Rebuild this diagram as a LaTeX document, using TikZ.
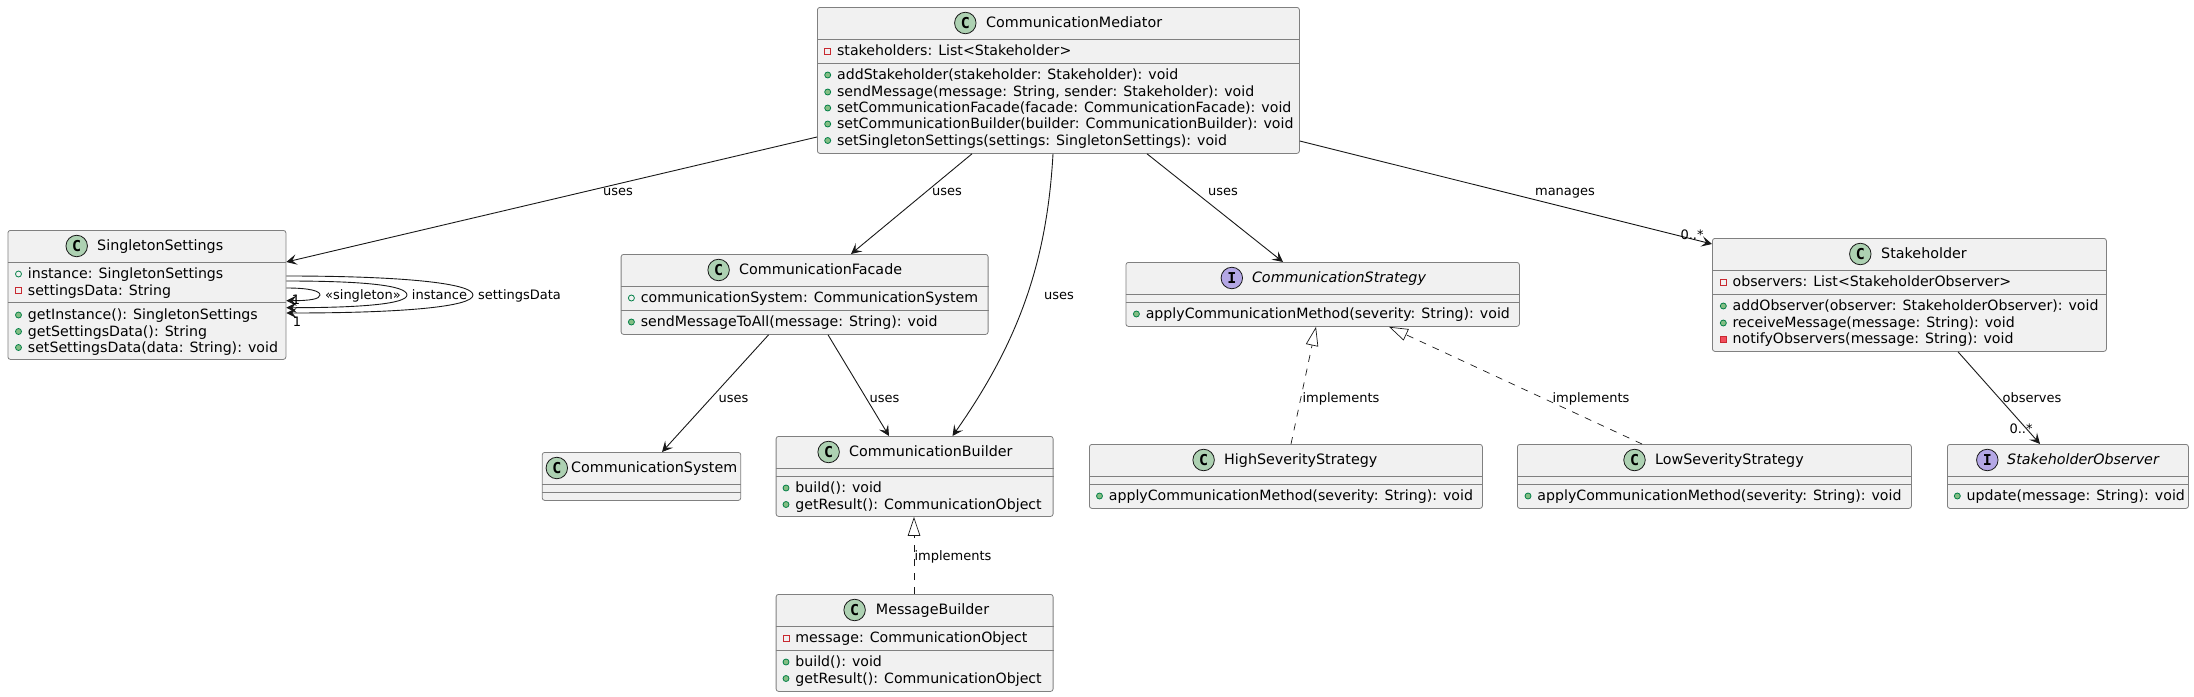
\documentclass[tikz,border=0pt]{standalone}
\usepackage{fontspec}
\setmainfont{DejaVu Sans}
\newfontfamily\badgefont{DejaVu Sans Mono}
\usetikzlibrary{arrows.meta,calc}
\definecolor{umlline}{HTML}{181818}
\definecolor{umlborder}{HTML}{808080}
\definecolor{umlfill}{HTML}{F1F1F1}
\definecolor{badgegreen}{HTML}{ADD1B2}
\definecolor{badgeviolet}{HTML}{B4A7E5}
\definecolor{pubgreen}{HTML}{84BE84}
\definecolor{pubedge}{HTML}{038048}
\definecolor{privred}{HTML}{F24D5C}
\definecolor{privedge}{HTML}{C82930}

\begin{document}
\begin{tikzpicture}[
      x=1pt,
      y=-1pt,
      umlbox/.style={
        draw=umlborder,
        fill=umlfill,
        line width=.8pt,
        rounded corners=2.5pt,
        inner sep=0pt,
        anchor=north west
      },
      sepline/.style={
        draw=umlborder,
        line width=.8pt
      },
      badgeC/.style={
        draw=umlline,
        fill=badgegreen,
        circle,
        line width=.8pt,
        inner sep=0pt,
        minimum size=21.5pt,
        font=\badgefont\bfseries\fontsize{15}{15}\selectfont
      },
      badgeI/.style={
        badgeC,
        fill=badgeviolet
      },
      titleC/.style={
        anchor=west,
        inner sep=0pt,
        text height=11.5pt,
        text depth=2.5pt,
        font=\fontsize{14.3}{16}\selectfont
      },
      titleI/.style={
        titleC,
        font=\fontsize{14.3}{16}\selectfont\itshape
      },
      memb/.style={
        anchor=west,
        inner sep=0pt,
        text height=11.5pt,
        text depth=2.5pt,
        font=\fontsize{14.15}{16}\selectfont
      },
      pubf/.style={
        draw=pubedge,
        circle,
        line width=.8pt,
        inner sep=0pt,
        minimum size=6pt
      },
      pubm/.style={
        pubf,
        fill=pubgreen
      },
      privf/.style={
        draw=privedge,
        rectangle,
        line width=.8pt,
        inner sep=0pt,
        minimum size=6pt
      },
      privm/.style={
        privf,
        fill=privred
      },
      lbl/.style={
        inner sep=0pt,
        text height=11pt,
        text depth=2pt,
        font=\fontsize{13}{15}\selectfont
      },
      arr/.style={
        draw=umlline,
        line width=.9pt,
        -{Stealth[length=10.5pt,width=10.5pt,inset=4.5pt]}
      },
      impl/.style={
        draw=umlline,
        line width=.7pt,
        dash pattern=on 7pt off 7pt,
        -{Triangle[open,length=19pt,width=12.5pt,line width=.7pt]}
      }
    ]
    \useasboundingbox (0,0) rectangle (2194,696);

    \foreach \nm/\bx/\by/\bw/\bh/\bs/\cx/\tx/\kd/\ttl in {
        med/817/7/482/146/24/965.3/986/C/CommunicationMediator,
        sing/7.5/230/278/129/40/76.7/97/C/SingletonSettings,
        fac/620.7/254/367/80/24/718.6/739/C/CommunicationFacade,
        sys/541.8/452/198.6/48/8/556.8/571/C/CommunicationSystem,
        bld/775.7/436/277/80/8/828.6/849/C/CommunicationBuilder,
        msg/775.7/594/277/97/24/854.6/875.7/C/MessageBuilder,
        strat/1125.5/262/393.5/64/8/1231.8/1251.8/I/CommunicationStrategy,
        high/1089/444/393/64/8/1203.6/1224/C/HighSeverityStrategy,
        low/1517/444/394/64/8/1634.5/1655/C/LowSeverityStrategy,
        stake/1712/238/394/113/24/1860.3/1881/C/Stakeholder,
        obs/1947/444/241/64/8/1987.3/2007/I/StakeholderObserver} {
      \node[umlbox,minimum width=\bw pt,minimum height=\bh pt] (\nm) at (\bx,\by) {};
      \draw[sepline] ([yshift=-32pt]\nm.north west) -- ([yshift=-32pt]\nm.north east);
      \draw[sepline] ([yshift=-32pt-\bs pt]\nm.north west) -- ([yshift=-32pt-\bs pt]\nm.north east);
      \node[badge\kd] (\nm badge) at (\cx,\by+16) {\kd};
      \node[title\kd] (\nm title) at (\tx,\by+16) {\ttl};
    }

    \foreach \vis/\ix/\iy/\txt [count=\i] in {
        privf/827.7/51/{stakeholders: List<Stakeholder>},
        pubm/827.7/75/{addStakeholder(stakeholder: Stakeholder): void},
        pubm/827.7/92/{sendMessage(message: String, sender: Stakeholder): void},
        pubm/827.7/108/{setCommunicationFacade(facade: CommunicationFacade): void},
        pubm/827.7/124/{setCommunicationBuilder(builder: CommunicationBuilder): void},
        pubm/827.7/140.5/{setSingletonSettings(settings: SingletonSettings): void},
        pubf/18.5/274/{instance: SingletonSettings},
        privf/18.5/290.5/{settingsData: String},
        pubm/18.5/315/{getInstance(): SingletonSettings},
        pubm/18.5/331.5/{getSettingsData(): String},
        pubm/18.5/347.5/{setSettingsData(data: String): void},
        pubf/631.4/298/{communicationSystem: CommunicationSystem},
        pubm/631.4/322/{sendMessageToAll(message: String): void},
        pubm/786/488/{build(): void},
        pubm/786/504.5/{getResult(): CommunicationObject},
        privf/786/638/{message: CommunicationObject},
        pubm/786/662/{build(): void},
        pubm/786/678.5/{getResult(): CommunicationObject},
        pubm/1136.4/314/{applyCommunicationMethod(severity: String): void},
        pubm/1099.5/496/{applyCommunicationMethod(severity: String): void},
        pubm/1528/496/{applyCommunicationMethod(severity: String): void},
        privf/1723.3/282/{observers: List<StakeholderObserver>},
        pubm/1723.3/306/{addObserver(observer: StakeholderObserver): void},
        pubm/1723.3/323/{receiveMessage(message: String): void},
        privm/1723.3/339/{notifyObservers(message: String): void},
        pubm/1957.3/496/{update(message: String): void}} {
      \node[\vis] (icon\i) at (\ix,\iy) {};
      \node[memb] (row\i) at (\ix+9.2,\iy) {\txt};
    }

    \draw[arr] ([yshift=-130pt]med.north west) -- ([yshift=-32pt]sing.north east);
    \draw[arr] ([xshift=155pt]med.south west) -- ([xshift=230.3pt]fac.north west);
    \draw[arr] ([xshift=236pt]med.south west) .. controls (1047,260) and (1020,340) .. ([xshift=176.8pt]bld.north west);
    \draw[arr] ([xshift=330pt]med.south west) -- ([xshift=157.5pt]strat.north west);
    \draw[arr] ([yshift=-134pt]med.north east) -- ([yshift=-6pt]stake.north west);
    \draw[arr] ([xshift=147.9pt]fac.south west) -- ([xshift=120.2pt]sys.north west);
    \draw[arr] ([xshift=207.3pt]fac.south west) -- ([xshift=113.3pt]bld.north west);
    \draw[impl] ([xshift=138.3pt]msg.north west) -- ([xshift=138.3pt]bld.south west);
    \draw[impl] ([xshift=202pt]high.north west) -- ([xshift=190.5pt]strat.south west);
    \draw[impl] ([xshift=125pt]low.north west) -- ([xshift=263.5pt]strat.south west);
    \draw[arr] ([xshift=246pt]stake.south west) -- ([xshift=93pt]obs.north west);

    \draw[arr] ([yshift=-58pt]sing.north east) .. controls (310,288) and (320,291) .. (320,295)
      .. controls (320,299) and (310,300.7) .. ([yshift=-70.7pt]sing.north east);
    \draw[arr] ([yshift=-51pt]sing.north east) .. controls (360,281) and (407,285) .. (407,295)
      .. controls (407,304) and (360,307.7) .. ([yshift=-77.7pt]sing.north east);
    \draw[arr] ([yshift=-46pt]sing.north east) .. controls (400,276) and (473,283) .. (473,295)
      .. controls (473,307) and (400,313) .. ([yshift=-83pt]sing.north east);

    \node[lbl] (usesSing) at (618,191) {uses};
    \node[lbl] (usesFac) at (947,191) {uses};
    \node[lbl] (usesBld) at (1059,295) {uses};
    \node[lbl] (usesStrat) at (1223,191) {uses};
    \node[lbl] (manages) at (1565,191) {manages};
    \node[lbl] (usesSys) at (733.6,398) {uses};
    \node[lbl] (usesBld2) at (884.6,398) {uses};
    \node[lbl] (implMsg) at (953,556) {implements};
    \node[lbl] (implHigh) at (1341,398) {implements};
    \node[lbl] (implLow) at (1591,398) {implements};
    \node[lbl] (observes) at (2032,398) {observes};
    \node[lbl] (multStake) at (1692,235) {0..*};
    \node[lbl] (multObs) at (2021,429) {0..*};
    \node[lbl] (singleton) at (363,295) {«singleton»};
    \node[lbl] (instance) at (439.5,295) {instance};
    \node[lbl] (settings) at (519.5,295) {settingsData};
    \node[lbl] (multOne) at (296,300) {1};
    \node[lbl] (multTwo) at (297,322) {1};
  \end{tikzpicture}
\end{document}
